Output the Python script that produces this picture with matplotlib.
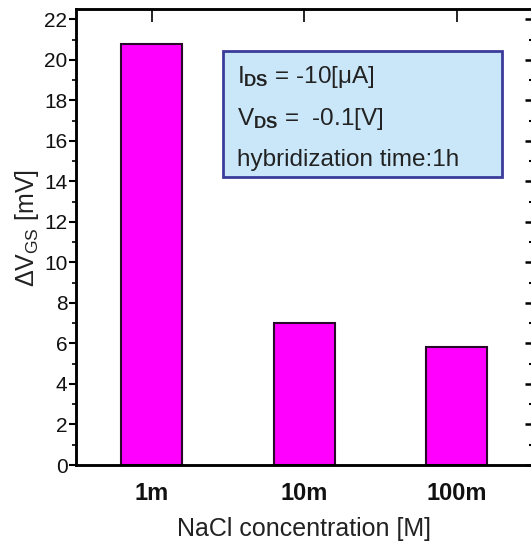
import numpy as np
import matplotlib
matplotlib.use('Agg')
from matplotlib import pyplot as plt
from matplotlib.ticker import MultipleLocator
from matplotlib.patches import Rectangle

plt.rcParams['font.family'] = ['Liberation Sans', 'DejaVu Sans']
plt.rcParams['mathtext.fontset'] = 'custom'
plt.rcParams['mathtext.rm'] = 'Liberation Sans'
plt.rcParams['mathtext.it'] = 'Liberation Sans'
plt.rcParams['mathtext.bf'] = 'Liberation Sans:bold'

# donnees
categories = ['1m', '10m', '100m']
delta_vgs = [20.8, 7.0, 5.83]
info_lines = ['$I_{\\mathbf{DS}}$ = -10[$\\mu$A]',
              '$V_{\\mathbf{DS}}$ =  -0.1[V]',
              'hybridization time:1h']

fig = plt.figure(figsize=(5.31, 5.44), dpi=100)
ax = fig.add_axes([0.1426, 0.1452, 0.8606, 0.838])

x = np.arange(len(categories))
ax.bar(x, delta_vgs, width=0.4, color='#ff00ff', edgecolor='#2a0a2a', linewidth=1.5, zorder=2)

ax.set_xlim(-0.5, 2.5)
ax.set_ylim(0, 22.5)
ax.set_xticks(x)
ax.set_xticklabels(categories, fontsize=17, fontweight='bold', color='#111111')
ax.yaxis.set_major_locator(MultipleLocator(2))
ax.yaxis.set_minor_locator(MultipleLocator(1))

# ticks: gauche vers l'exterieur, droite vers l'interieur
ax.tick_params(axis='y', which='major', direction='out', length=5, width=1.5, labelsize=15,
               pad=1, left=True, right=False, labelcolor='#111111')
ax.tick_params(axis='y', which='minor', direction='out', length=3, width=1.2, left=True, right=False)
ax.tick_params(axis='x', which='major', direction='in', length=9, width=1.2, top=True, bottom=True, pad=12)

# ticks de droite
ax2 = ax.twinx()
ax2.set_ylim(ax.get_ylim())
ax2.yaxis.set_major_locator(MultipleLocator(2))
ax2.yaxis.set_minor_locator(MultipleLocator(1))
ax2.tick_params(axis='y', which='major', direction='in', length=6, width=1.8, labelright=False)
ax2.tick_params(axis='y', which='minor', direction='in', length=3, width=1.5)

for a in (ax, ax2):
    for s in a.spines.values():
        s.set_linewidth(1.8)

ax.set_xlabel('NaCl concentration [M]', fontsize=18, labelpad=9, color='#222222')
ax.set_ylabel(r'$\Delta V_{\rm GS}$ [mV]', fontsize=18, color='#222222')
ax.yaxis.set_label_coords(-0.075, 0.52)

# cadre d'info
ax.add_patch(Rectangle((0.323, 0.632), 0.609, 0.276, transform=ax.transAxes,
                       facecolor='#c9e7f9', edgecolor='#3b3b9a', linewidth=2, zorder=5))
for line, yy in zip(info_lines, [0.838, 0.746, 0.656]):
    ax.text(0.352, yy, line, transform=ax.transAxes, fontsize=17.5, va='baseline', ha='left',
            color='#222222', zorder=6)

plt.savefig('out.png', dpi=100)
